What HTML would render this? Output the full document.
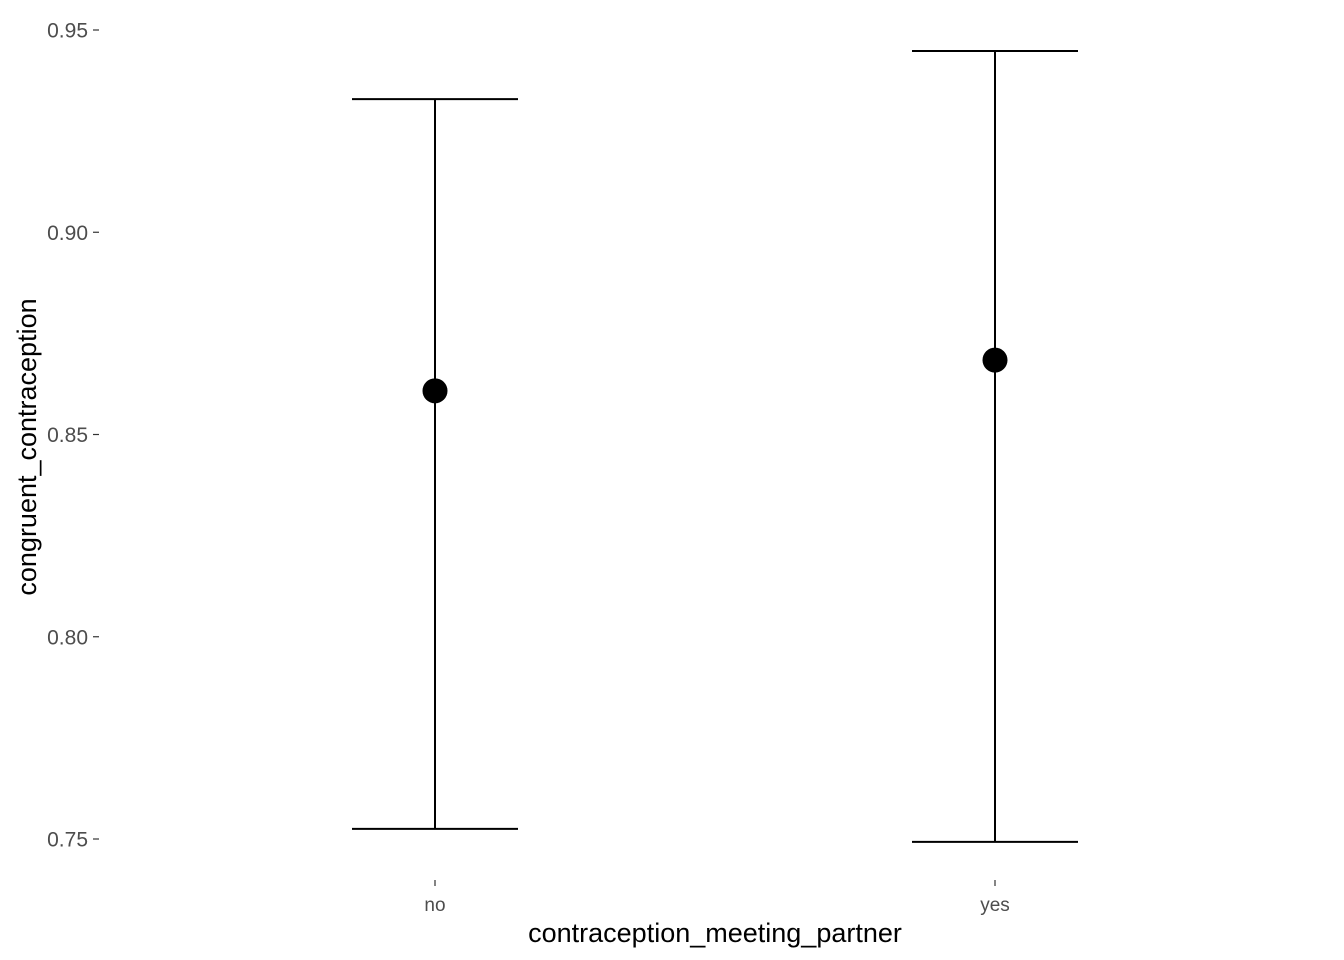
<!DOCTYPE html>
<html><head><meta charset="utf-8"><style>
html,body{margin:0;padding:0;background:#fff;}
svg{display:block;font-family:"Liberation Sans",Arial,sans-serif;}
</style></head><body>
<svg id="chart" width="1344" height="960">
<g id="yaxis"></g>
<g id="xaxis"></g>
<g id="marks"></g>
<text x="715" y="942" text-anchor="middle" font-size="27" fill="#000">contraception_meeting_partner</text>
<text transform="translate(36,447) rotate(-90)" text-anchor="middle" font-size="27" fill="#000">congruent_contraception</text>
</svg>
<script>
const categories = ["no", "yes"];
const means = [0.8608, 0.8684];
const upper = [0.9329, 0.9448];
const lower = [0.7525, 0.7493];
const yTicks = [0.75, 0.80, 0.85, 0.90, 0.95];
const yTickLabels = ["0.75", "0.80", "0.85", "0.90", "0.95"];

const NS = "http://www.w3.org/2000/svg";
function y(v){ return 839 - (v - 0.75) * 4045; }
function x(i){ return 435 + i * 560; }
function mk(tag, attrs, parent){ const e=document.createElementNS(NS,tag); for(const k in attrs) e.setAttribute(k,attrs[k]); parent.appendChild(e); return e; }

const ya=document.getElementById('yaxis');
yTicks.forEach((t,i)=>{
  const l=mk('line',{x1:93,x2:99,y1:y(t),y2:y(t),stroke:'#333','stroke-width':1.2},ya);
  
  
  const tx=mk('text',{x:88,y:y(t)+7.5,'text-anchor':'end','font-size':21,fill:'#4d4d4d'},ya);
  tx.textContent=yTickLabels[i];
  
  
});
const xa=document.getElementById('xaxis');
categories.forEach((c,i)=>{
  const l=mk('line',{x1:x(i),x2:x(i),y1:880,y2:886,stroke:'#333','stroke-width':1.2},xa);
  
  
  const tx=mk('text',{x:x(i),y:911,'text-anchor':'middle','font-size':19,fill:'#4d4d4d'},xa);
  tx.textContent=c;
  
  
});
const m=document.getElementById('marks');
categories.forEach((c,i)=>{
  const g=mk('g',{},m);
  
  
  const s={stroke:'#000','stroke-width':2};
  mk('line',Object.assign({x1:x(i),x2:x(i),y1:y(upper[i]),y2:y(lower[i])},s),g);
  mk('line',Object.assign({x1:x(i)-83,x2:x(i)+83,y1:y(upper[i]),y2:y(upper[i])},s),g);
  mk('line',Object.assign({x1:x(i)-83,x2:x(i)+83,y1:y(lower[i]),y2:y(lower[i])},s),g);
  const p=mk('circle',{cx:x(i),cy:y(means[i]),r:12.5,fill:'#000'},m);
  
  
});
</script>
</body></html>
